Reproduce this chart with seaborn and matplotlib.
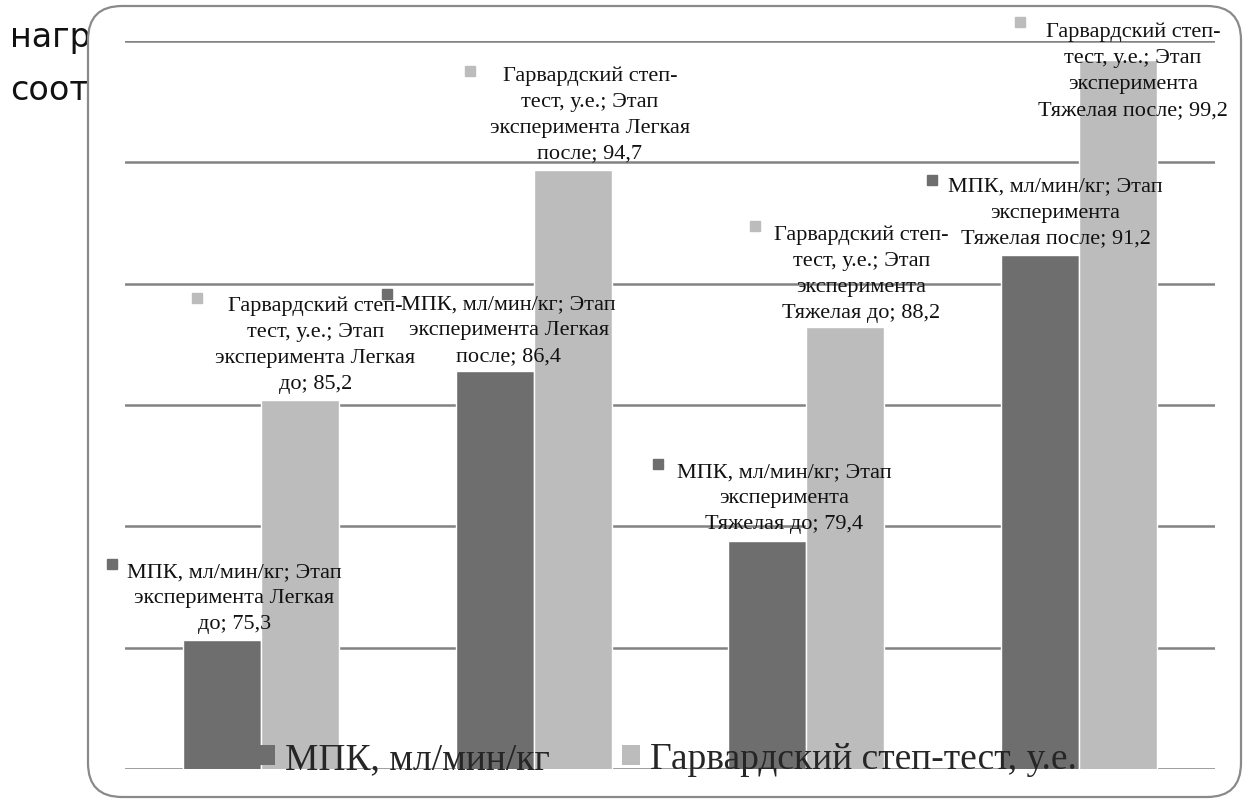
import re
import matplotlib
matplotlib.use("Agg")
import matplotlib.pyplot as plt
import matplotlib.transforms as mtransforms
from matplotlib.patches import FancyBboxPatch, Patch
import pandas as pd
import seaborn as sns

# ---- data -------------------------------------------------------------
stages = ["Легкая до", "Легкая после", "Тяжелая до", "Тяжелая после"]
series_names = ["МПК, мл/мин/кг", "Гарвардский степ-тест, у.е."]
mpk = [75.3, 86.4, 79.4, 91.2]
harvard = [85.2, 94.7, 88.2, 99.2]
y_ticks = [70, 75, 80, 85, 90, 95, 100]

# ---- styling / layout -------------------------------------------------
colors = ["#6e6e6e", "#bcbcbc"]
serif = ["Liberation Serif", "DejaVu Serif"]

# words on each line of the data callouts (series-major order)
line_words = [[3, 2, 2], [3, 2, 2], [3, 1, 3], [3, 1, 3],
              [2, 3, 2, 2], [2, 3, 2, 2], [2, 3, 1, 3], [2, 3, 1, 3]]
# offset of the callout's last baseline (dx, dy) and of its marker (mx, my),
# in pixels from the top centre of the bar
text_off = [(12, 12), (14, 11), (17, 13), (16, 12),
            (15, 12), (17, 12), (16, 10), (15, -54)]
mark_off = [(-110, 76), (-108, 77), (-109, 77), (-108, 75),
            (-103, 102), (-103, 99), (-90, 101), (-98, 38)]

W, H, DPI = 1243, 803, 100

sns.set_style("white")
plt.rcParams["font.family"] = serif

df = pd.DataFrame({
    "stage": stages * 2,
    "value": mpk + harvard,
    "series": [series_names[0]] * len(stages) + [series_names[1]] * len(stages),
})

fig = plt.figure(figsize=(W / DPI, H / DPI), dpi=DPI)
fig.patch.set_facecolor("white")

# fragments of the surrounding page text, partly hidden by the chart frame
for txt, base in [("нагр", 47), ("соот", 100)]:
    fig.text(10 / W, 1 - base / H, txt, fontsize=24, va="baseline",
             family=["DejaVu Sans"], color="#111111", zorder=0)

# chart area frame with rounded corners (pixel coordinates)
frame = FancyBboxPatch((88, 5), 1241 - 88, 796 - 5,
                       boxstyle="round,pad=0,rounding_size=34",
                       transform=mtransforms.IdentityTransform(),
                       facecolor="white", edgecolor="#8a8a8a", linewidth=1.6,
                       zorder=1)
fig.patches.append(frame)

ax = fig.add_axes([125 / W, 1 - 770 / H, (1215 - 125) / W, (770 - 42) / H])
ax.set_zorder(2)
ax.patch.set_alpha(0)

sns.barplot(data=df, x="stage", y="value", hue="series", order=stages,
            hue_order=series_names, palette=colors, width=0.573, gap=0,
            saturation=1, errorbar=None, legend=False, ax=ax)

ax.set_ylim(y_ticks[0], y_ticks[-1])
ax.set_yticks(y_ticks)
ax.yaxis.grid(True, color="#828282", linewidth=1.8)
ax.set_axisbelow(True)
ax.set_xlim(-0.5, len(stages) - 0.5)
for s in ax.spines.values():
    s.set_visible(False)
ax.tick_params(left=False, bottom=False, labelleft=False, labelbottom=False)
ax.set_xlabel("")
ax.set_ylabel("")


def callout_lines(series, stage, value, counts):
    full = f"{series}; Этап эксперимента {stage}; {str(value).replace('.', ',')}"
    tokens = re.findall(r"[^\s-]+-|\S+", full)
    lines, i = [], 0
    for n in counts:
        part = tokens[i:i + n]
        i += n
        line = ""
        for t in part:
            if line and not line.endswith("-"):
                line += " "
            line += t
        lines.append(line)
    return "\n".join(lines)


k = 0
for si, cont in enumerate(ax.containers):
    for bi, bar in enumerate(cont):
        x = bar.get_x() + bar.get_width() / 2
        v = bar.get_height() + bar.get_y()
        label = callout_lines(series_names[si], stages[bi], v, line_words[k])
        dx, dy = text_off[k]
        ax.annotate(label, xy=(x, v), xytext=(dx, dy),
                    textcoords="offset pixels", ha="center", va="baseline",
                    multialignment="center", fontsize=16, linespacing=1.5,
                    color="#111111", annotation_clip=False)
        mx, my = mark_off[k]
        tr = mtransforms.offset_copy(ax.transData, fig=fig, x=mx, y=my,
                                     units="dots")
        ax.plot([x], [v], marker="s", ms=6.5, color=colors[si],
                transform=tr, clip_on=False, linestyle="none")
        k += 1

handles = [Patch(facecolor=c, edgecolor="none") for c in colors]
ax.legend(handles, series_names, ncol=2, frameon=False, loc="lower left",
          bbox_to_anchor=(0.121, -0.010), fontsize=27, borderpad=0,
          handlelength=0.48, handleheight=0.48, handletextpad=0.27,
          columnspacing=1.92, borderaxespad=0)

fig.savefig("out.png", dpi=DPI)
